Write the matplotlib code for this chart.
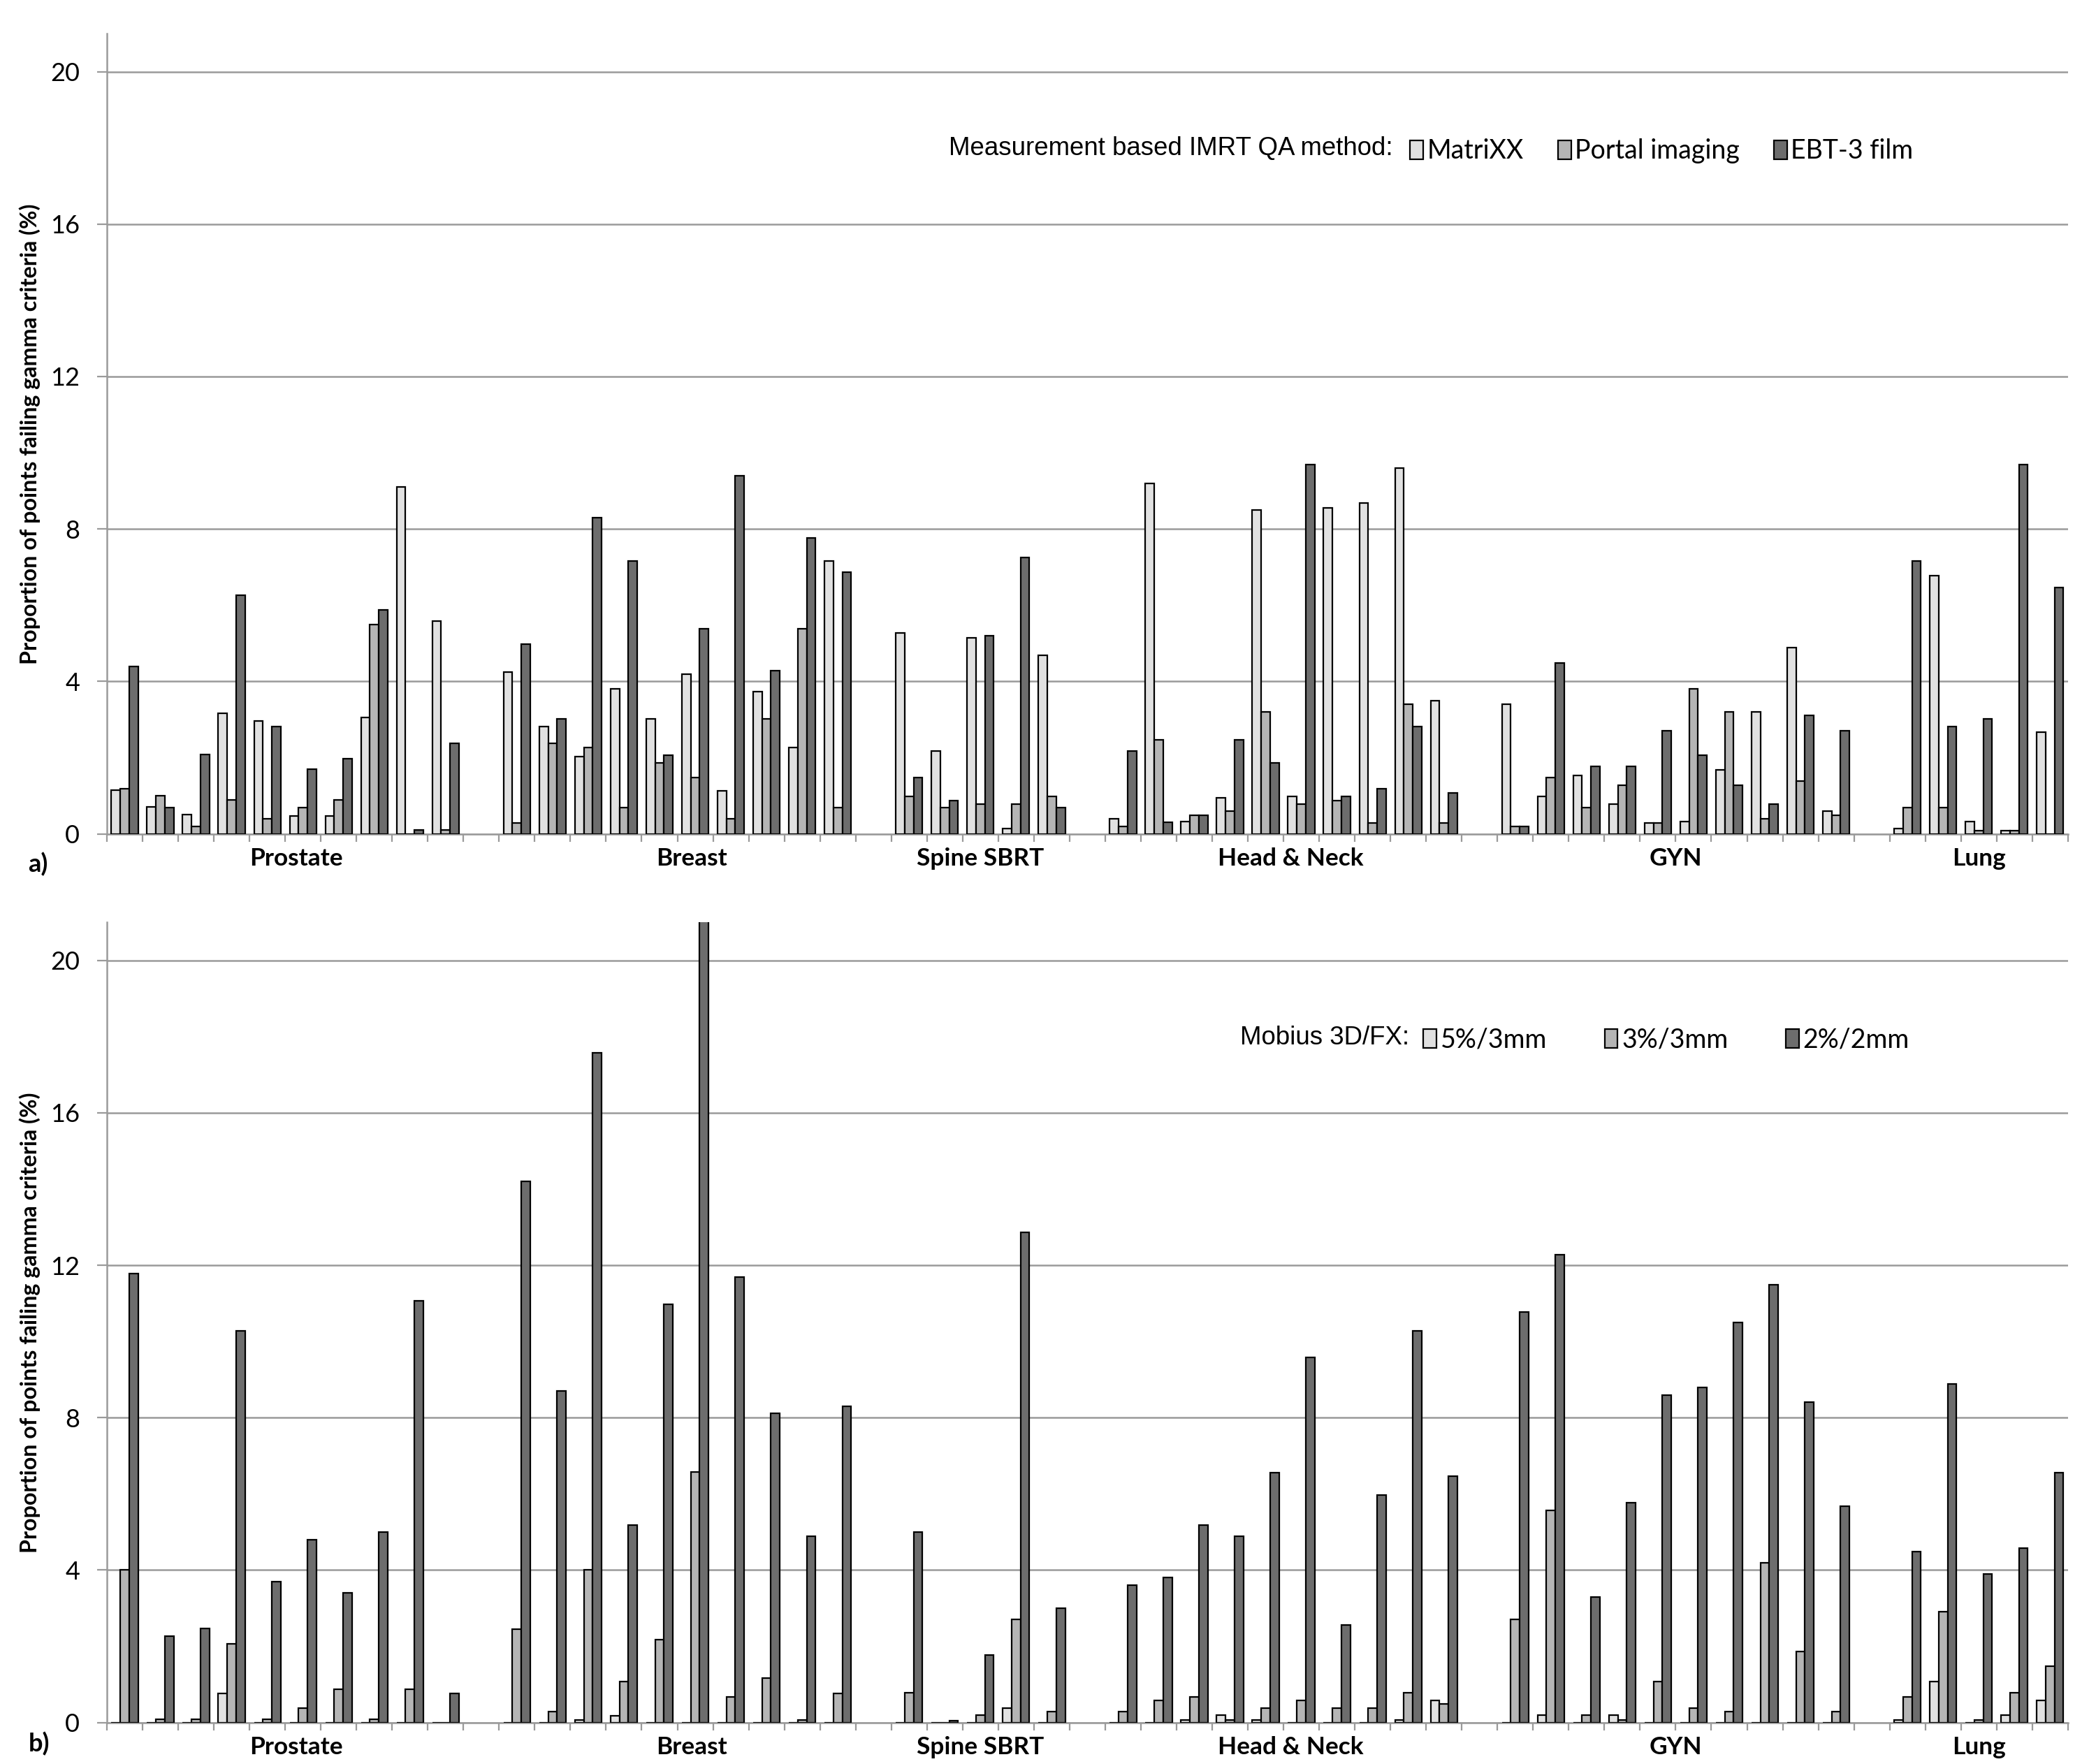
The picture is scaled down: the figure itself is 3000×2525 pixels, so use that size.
import numpy as np
import matplotlib
matplotlib.use("Agg")
import matplotlib.pyplot as plt
from matplotlib.patches import Patch
from matplotlib.transforms import blended_transform_factory

# ---- data -------------------------------------------------------------
categories = ["Prostate", "Breast", "Spine SBRT", "Head & Neck", "GYN", "Lung"]
plans_per_category = [10, 10, 5, 10, 10, 5]

# a) measurement based IMRT QA
matrixx = [1.15, 0.70, 0.50, 3.17, 2.96, 0.46, 0.46, 3.06, 9.10, 5.58,
           4.24, 2.81, 2.02, 3.80, 3.01, 4.19, 1.13, 3.74, 2.27, 7.16,
           5.28, 2.17, 5.14, 0.13, 4.69,
           0.39, 9.19, 0.33, 0.94, 8.49, 0.98, 8.55, 8.69, 9.59, 3.50,
           3.40, 0.98, 1.53, 0.78, 0.29, 0.33, 1.67, 3.20, 4.89, 0.59,
           0.14, 6.77, 0.33, 0.09, 2.66]
portal = [1.19, 1.00, 0.19, 0.89, 0.39, 0.69, 0.89, 5.49, 0.00, 0.10,
          0.29, 2.37, 2.27, 0.68, 1.87, 1.48, 0.39, 3.01, 5.39, 0.68,
          0.98, 0.68, 0.78, 0.78, 0.98,
          0.19, 2.47, 0.49, 0.59, 3.20, 0.78, 0.88, 0.29, 3.40, 0.29,
          0.19, 1.48, 0.68, 1.28, 0.29, 3.80, 3.20, 0.39, 1.38, 0.49,
          0.68, 0.68, 0.09, 0.09, 0.00]
ebt3 = [4.40, 0.69, 2.08, 6.27, 2.82, 1.69, 1.97, 5.88, 0.10, 2.37,
        4.98, 3.01, 8.30, 7.16, 2.07, 5.39, 9.39, 4.29, 7.76, 6.86,
        1.48, 0.88, 5.19, 7.26, 0.68,
        2.17, 0.30, 0.49, 2.47, 1.87, 9.69, 0.98, 1.18, 2.81, 1.08,
        0.19, 4.49, 1.77, 1.77, 2.71, 2.07, 1.28, 0.78, 3.10, 2.71,
        7.16, 2.81, 3.01, 9.69, 6.47]

# b) Mobius 3D/FX
mob_5_3 = [0, 0, 0, 0.77, 0, 0, 0, 0, 0, 0,
           0, 0, 0.07, 0.18, 0, 0, 0, 0, 0, 0,
           0, 0, 0, 0.37, 0,
           0, 0, 0.07, 0.19, 0.07, 0, 0, 0, 0.07, 0.58,
           0, 0.19, 0, 0.19, 0, 0, 0, 0, 0, 0,
           0.07, 1.08, 0, 0.19, 0.58]
mob_3_3 = [4.00, 0.09, 0.09, 2.07, 0.09, 0.38, 0.88, 0.09, 0.88, 0,
           2.45, 0.28, 4.00, 1.07, 2.17, 6.57, 0.68, 1.17, 0.07, 0.77,
           0.79, 0, 0.19, 2.71, 0.28,
           0.28, 0.58, 0.68, 0.07, 0.37, 0.58, 0.37, 0.37, 0.78, 0.49,
           2.71, 5.57, 0.19, 0.07, 1.08, 0.37, 0.28, 4.19, 1.87, 0.28,
           0.68, 2.91, 0.07, 0.78, 1.47]
mob_2_2 = [11.78, 2.26, 2.46, 10.28, 3.70, 4.79, 3.40, 4.99, 11.07, 0.77,
           14.20, 8.70, 17.58, 5.18, 10.98, 21.50, 11.68, 8.11, 4.88, 8.30,
           4.99, 0.05, 1.77, 12.86, 3.00,
           3.61, 3.80, 5.18, 4.89, 6.56, 9.59, 2.56, 5.97, 10.28, 6.47,
           10.78, 12.27, 3.30, 5.77, 8.60, 8.79, 10.49, 11.48, 8.40, 5.68,
           4.49, 8.89, 3.90, 4.58, 6.56]

bar_colors = ["#e1e1e1", "#b5b5b5", "#6d6d6d"]
grid_gray = "#9a9a9a"
# small nudges of the category captions (in bar slots), as in the original
label_nudge = [0.3, 0.4, 0.0, 0.2, 0.0, 0.0]

plt.rcParams["font.family"] = ["Lato", "DejaVu Sans"]

# one empty slot between categories
slots, centers = [], []
pos = 0
for n in plans_per_category:
    slots.extend(range(pos, pos + n))
    centers.append(pos + (n - 1) / 2)
    pos += n + 1
x = np.array(slots)
n_slots = pos - 1

fig = plt.figure(figsize=(15, 12.625), dpi=200)
ax_a = fig.add_axes([0.051, 0.5273, 0.9356, 0.4537])
ax_b = fig.add_axes([0.051, 0.0235, 0.9356, 0.4537])


def draw_panel(ax, series, title, labels, title_x, box_x, colspace, letter, letter_y):
    w = 0.25
    for k, (vals, col) in enumerate(zip(series, bar_colors)):
        ax.bar(x + (k - 1) * w, vals, width=w, color=col,
               edgecolor="black", linewidth=0.8, zorder=3)
    ax.set_xlim(-0.5, n_slots - 0.5)
    ax.set_ylim(0, 21)
    ax.set_yticks([0, 4, 8, 12, 16, 20])
    ax.set_xticks(np.arange(-0.5, n_slots, 1.0))
    ax.set_xticklabels([])
    ax.tick_params(axis="x", length=4, width=0.8, color=grid_gray, direction="out")
    ax.tick_params(axis="y", length=5, width=0.8, color=grid_gray, pad=9,
                   labelsize=13)
    ax.grid(axis="y", color=grid_gray, linewidth=0.9)
    ax.set_axisbelow(True)
    for s in ["top", "right"]:
        ax.spines[s].set_visible(False)
    for s in ["left", "bottom"]:
        ax.spines[s].set_color(grid_gray)
        ax.spines[s].set_linewidth(0.9)

    ax.set_ylabel("Proportion of points failing gamma criteria (%)",
                  fontsize=11.6, fontweight="bold")
    ax.yaxis.set_label_coords(-0.034, 0.5)

    trans = blended_transform_factory(ax.transData, ax.transAxes)
    for c, dx, name in zip(centers, label_nudge, categories):
        ax.text(c + dx, -0.031, name, transform=trans, ha="center", va="center",
                fontsize=12.7, fontweight="bold")

    ax.text(title_x, 0.856, title, transform=ax.transAxes, ha="left",
            va="center", fontsize=13.2,
            family=["Liberation Sans Narrow", "Liberation Sans"])
    handles = [Patch(facecolor=c, edgecolor="black", linewidth=0.8)
               for c in bar_colors]
    ax.legend(handles, labels, loc="center left", bbox_to_anchor=(box_x, 0.853),
              ncol=3, frameon=False, fontsize=13.5, handlelength=0.5,
              handleheight=0.75, handletextpad=0.15, columnspacing=colspace,
              borderpad=0, borderaxespad=0)

    fig.text(0.0135, letter_y, letter, ha="left", va="center",
             fontsize=13, fontweight="bold")


draw_panel(ax_a, [matrixx, portal, ebt3],
           "Measurement based IMRT QA method:",
           ["MatriXX", "Portal imaging", "EBT-3 film"],
           0.4294, 0.6646, 1.3, "a)", 0.510)
draw_panel(ax_b, [mob_5_3, mob_3_3, mob_2_2],
           "Mobius 3D/FX:",
           ["5%/3mm", "3%/3mm", "2%/2mm"],
           0.578, 0.6714, 2.2, "b)", 0.0114)

fig.savefig("out.png", dpi=200, facecolor="white")
